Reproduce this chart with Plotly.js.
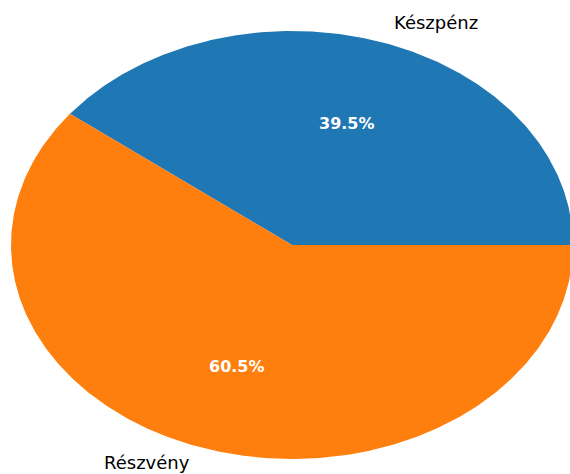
<!DOCTYPE html>
<html>
<head>
<meta charset="utf-8">
<script src="https://cdn.plot.ly/plotly-3.0.1.min.js"></script>
<style>html,body{margin:0;padding:0;background:#fff;}#chart{width:570px;height:474px;}</style>
</head>
<body>
<div id="chart"></div>
<script>
// Data
const labels = ["Készpénz", "Részvény"];
const values = [39.5, 60.5];
const colors = ["#1f77b4", "#ff7f0e"];

const total = values.reduce((a, b) => a + b, 0);
const traces = [];
const annotations = [];
let start = 0; // degrees, counter-clockwise from 3 o'clock
const labelDist = 1.1, pctDist = 0.6;
const font = "DejaVu Sans, sans-serif";

values.forEach((v, i) => {
  const frac = v / total;
  const sweep = frac * 360;
  const end = start + sweep;
  const n = Math.max(2, Math.ceil(sweep * 2));
  const xs = [0], ys = [0];
  for (let k = 0; k <= n; k++) {
    const a = (start + sweep * k / n) * Math.PI / 180;
    xs.push(Math.cos(a));
    ys.push(Math.sin(a));
  }
  xs.push(0); ys.push(0);
  traces.push({
    type: "scatter", mode: "lines", x: xs, y: ys, fill: "toself",
    fillcolor: colors[i], line: {width: 0, color: colors[i]},
    hoverinfo: "skip", showlegend: false
  });
  const mid = (start + sweep / 2) * Math.PI / 180;
  const cx = Math.cos(mid), cy = Math.sin(mid);
  annotations.push({
    x: labelDist * cx, y: labelDist * cy, xref: "x", yref: "y",
    text: labels[i], showarrow: false,
    xanchor: cx > 0 ? "left" : "right", yanchor: "middle",
    yshift: cy < 0 ? 5 : 0,
    font: {family: font, size: 18, color: "#000"}
  });
  annotations.push({
    x: pctDist * cx, y: pctDist * cy, xref: "x", yref: "y",
    text: "<b>" + (frac * 100).toFixed(1) + "%</b>", showarrow: false,
    xanchor: "center", yanchor: "middle",
    font: {family: font, size: 16, color: "#fff"}
  });
  start = end;
});

const layout = {
  width: 570, height: 474,
  margin: {l: 0, r: 0, t: 0, b: 0},
  paper_bgcolor: "#fff", plot_bgcolor: "#fff",
  xaxis: {range: [-1.0391, 0.9893], visible: false, fixedrange: true},
  yaxis: {range: [-1.0701, 1.1449], visible: false, fixedrange: true},
  annotations: annotations,
  showlegend: false
};

Plotly.newPlot("chart", traces, layout, {staticPlot: true});
</script>
</body>
</html>
